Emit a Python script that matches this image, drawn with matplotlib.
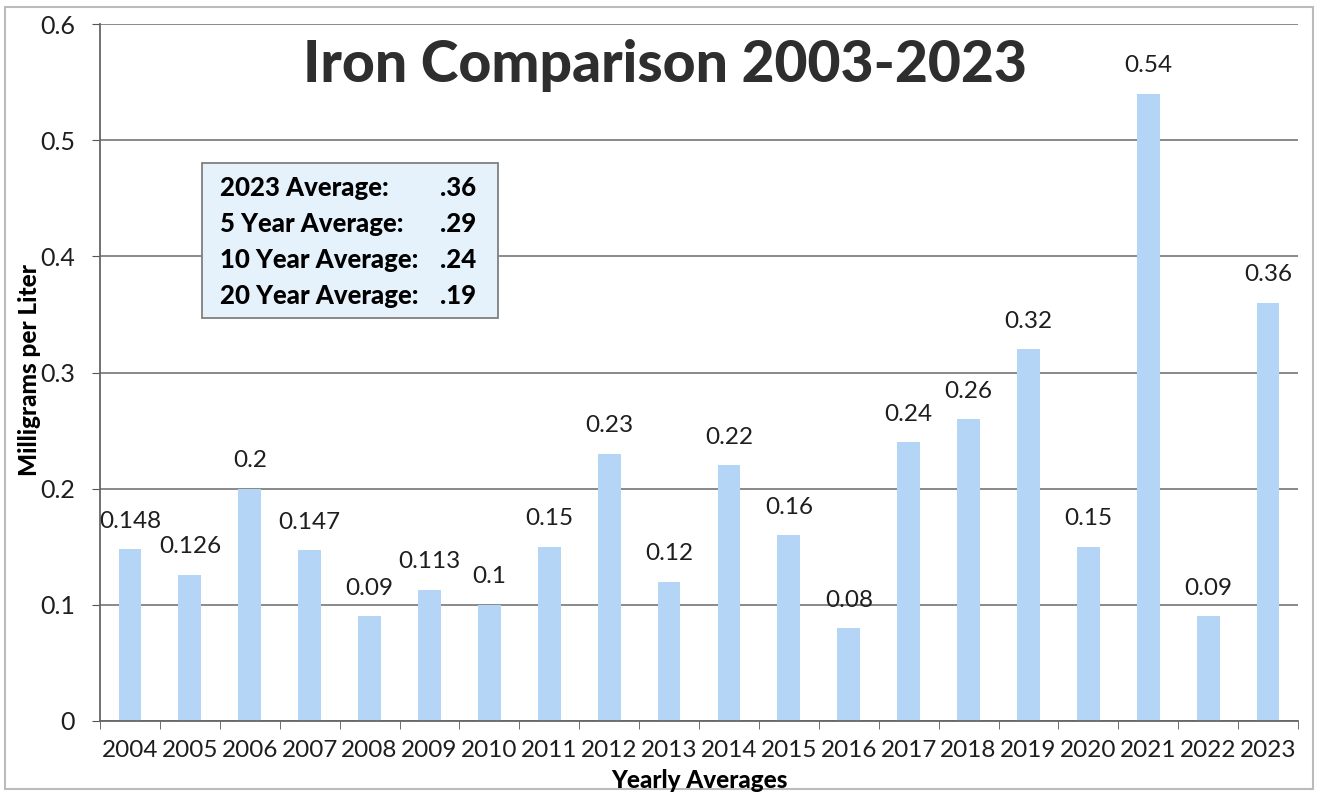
import matplotlib
matplotlib.use("Agg")
import matplotlib.pyplot as plt
from matplotlib.patches import Rectangle

plt.rcParams['font.family'] = ['Lato', 'DejaVu Sans']

# Data
years = ['2004', '2005', '2006', '2007', '2008', '2009', '2010', '2011', '2012', '2013',
         '2014', '2015', '2016', '2017', '2018', '2019', '2020', '2021', '2022', '2023']
iron = [0.148, 0.126, 0.2, 0.147, 0.09, 0.113, 0.1, 0.15, 0.23, 0.12,
        0.22, 0.16, 0.08, 0.24, 0.26, 0.32, 0.15, 0.54, 0.09, 0.36]
labels = ['0.148', '0.126', '0.2', '0.147', '0.09', '0.113', '0.1', '0.15', '0.23', '0.12',
          '0.22', '0.16', '0.08', '0.24', '0.26', '0.32', '0.15', '0.54', '0.09', '0.36']
summary_names = ['2023 Average:', '5 Year Average:', '10 Year Average:', '20 Year Average:']
summary_vals = ['.36', '.29', '.24', '.19']

fig = plt.figure(figsize=(13.18, 7.95), dpi=100)
W, H = 1318, 795
ax = fig.add_axes([100 / W, 74 / H, 1198 / W, 697 / H])

x = range(len(years))
ax.bar(x, iron, width=0.38, color='#b4d5f5', zorder=2)
# data labels sit just above each bar
for i in x:
    ax.text(i, iron[i] + 0.024, labels[i], ha='center', va='center', fontsize=17.5, color='#1e1e1e', zorder=3)

ax.set_xlim(-0.5, len(years) - 0.5)
ax.set_ylim(0, 0.6)
ax.set_yticks([0, 0.1, 0.2, 0.3, 0.4, 0.5, 0.6])
ax.set_yticklabels(['0', '0.1', '0.2', '0.3', '0.4', '0.5', '0.6'], fontsize=18, color='#1e1e1e')
ax.set_xticks(list(x))
ax.set_xticklabels(years, fontsize=17.5, color='#1e1e1e')
ax.set_xticks([i - 0.5 for i in range(len(years) + 1)], minor=True)
ax.tick_params(axis='x', which='major', length=0, pad=14)
ax.tick_params(axis='x', which='minor', length=6, color='#555555', direction='out')
ax.tick_params(axis='y', length=6, color='#555555', pad=12)
ax.yaxis.grid(True, color='#808080', linewidth=1.3, zorder=0)
ax.set_axisbelow(True)
for s in ['top', 'right']:
    ax.spines[s].set_visible(False)
for s in ['left', 'bottom']:
    ax.spines[s].set_color('#666666')
    ax.spines[s].set_linewidth(1.3)

fig.text(700 / W, 1 - 780 / H, 'Yearly Averages', ha='center', va='center', fontsize=17.5, fontweight='black')
fig.text(30 / W, 1 - 370 / H, 'Milligrams per Liter', ha='center', va='center', rotation=90,
         fontsize=17.5, fontweight='black')
fig.text(665 / W, 1 - 82 / H, 'Iron Comparison 2003-2023', ha='center', va='baseline', fontsize=41,
         fontweight='black', color='#2e2e2e')

# summary box
fig.patches.append(Rectangle((202 / W, 1 - 318 / H), 296 / W, 155 / H, transform=fig.transFigure,
                             facecolor='#e5f1fb', edgecolor='#7f7f7f', linewidth=1.3, zorder=5))
for k, (n, v) in enumerate(zip(summary_names, summary_vals)):
    yy = 1 - (188 + k * 36) / H
    fig.text(220 / W, yy, n, ha='left', va='center', fontsize=18.5, fontweight='black', zorder=6)
    fig.text(476 / W, yy, v, ha='right', va='center', fontsize=18.5, fontweight='black', zorder=6)

# outer chart border
fig.patches.append(Rectangle((5 / W, 6 / H), 1308 / W, 782 / H, transform=fig.transFigure,
                             facecolor='none', edgecolor='#bbbbbb', linewidth=1.5))

fig.savefig('out.png', dpi=100)
